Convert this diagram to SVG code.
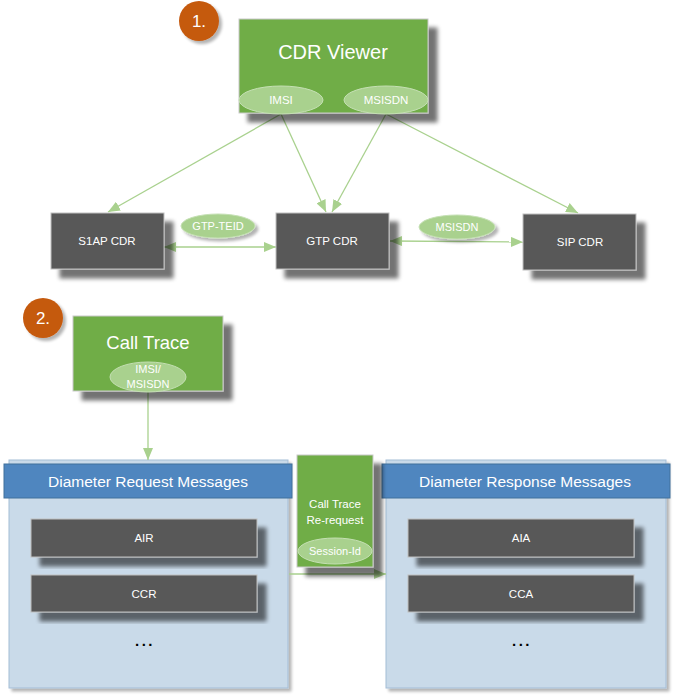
<svg xmlns="http://www.w3.org/2000/svg" width="675" height="697" viewBox="0 0 675 697">
<style>
text{font-family:"Liberation Sans",Arial,sans-serif;fill:#fff;text-anchor:middle;dominant-baseline:central}
.green{fill:#70AD47;stroke:#C9C9C9;stroke-width:1}
.ell{fill:#A9D18E;stroke:#C5E0B4;stroke-width:1}
.dark{fill:#595959;stroke:#BFBFBF;stroke-width:1}
.cont{fill:#C9DAE9;stroke:#A3BDD6;stroke-width:1}
.hdr{fill:#4F86BF;stroke:#41719C;stroke-width:1}
.num{fill:#C55A11}
.con{stroke:#A9D18E;stroke-width:1.3;fill:none}
.dots{fill:#000;font-size:15px;font-weight:bold;letter-spacing:2.5px}
</style>
<defs>
<filter id="sh" x="-20%" y="-20%" width="150%" height="150%">
<feGaussianBlur in="SourceAlpha" stdDeviation="2"/>
<feOffset dx="9" dy="9" result="o"/>
<feComponentTransfer><feFuncA type="linear" slope="0.55"/></feComponentTransfer>
<feMerge><feMergeNode/><feMergeNode in="SourceGraphic"/></feMerge>
</filter>
<filter id="sh2" x="-20%" y="-20%" width="150%" height="150%">
<feGaussianBlur in="SourceAlpha" stdDeviation="1.5"/>
<feOffset dx="3" dy="3" result="o"/>
<feComponentTransfer><feFuncA type="linear" slope="0.3"/></feComponentTransfer>
<feMerge><feMergeNode/><feMergeNode in="SourceGraphic"/></feMerge>
</filter>
<marker id="ah" viewBox="0 0 12 10" refX="12" refY="5" markerWidth="12" markerHeight="10" markerUnits="userSpaceOnUse" orient="auto-start-reverse">
<path d="M0,0 L12,5 L0,10 z" fill="#A9D18E"/>
</marker>
</defs>

<g id="step1"><circle class="num" cx="199" cy="21" r="20" filter="url(#sh2)"/><text x="199" y="21" font-size="17">1.</text></g>
<g id="step2"><circle class="num" cx="43" cy="318" r="20" filter="url(#sh2)"/><text x="43" y="318" font-size="17">2.</text></g>

<g id="diam-req">
<rect class="cont" x="9" y="460" width="279" height="228" filter="url(#sh2)"/>
<rect class="hdr" x="4" y="464" width="288" height="34"/>
<text x="148" y="481" font-size="15.5">Diameter Request Messages</text>
</g>
<g id="air"><rect class="dark" x="31" y="519" width="226" height="38" filter="url(#sh)"/><text x="144" y="538" font-size="11.5">AIR</text></g>
<g id="ccr"><rect class="dark" x="31" y="575" width="226" height="37" filter="url(#sh)"/><text x="144" y="594" font-size="11.5">CCR</text></g>
<text class="dots" x="145" y="640">...</text>

<g id="diam-resp">
<rect class="cont" x="386" y="460" width="280" height="228" filter="url(#sh2)"/>
<rect class="hdr" x="382" y="464" width="288" height="34"/>
<text x="525" y="481" font-size="15.5">Diameter Response Messages</text>
</g>
<g id="aia"><rect class="dark" x="408" y="519" width="226" height="38" filter="url(#sh)"/><text x="521" y="538" font-size="11.5">AIA</text></g>
<g id="cca"><rect class="dark" x="408" y="575" width="226" height="37" filter="url(#sh)"/><text x="521" y="594" font-size="11.5">CCA</text></g>
<text class="dots" x="522" y="640">...</text>

<g id="connectors">
<line class="con" x1="281" y1="114" x2="108" y2="212" marker-end="url(#ah)"/>
<line class="con" x1="281" y1="114" x2="326" y2="212" marker-end="url(#ah)"/>
<line class="con" x1="386" y1="114" x2="332" y2="212" marker-end="url(#ah)"/>
<line class="con" x1="386" y1="114" x2="578" y2="213" marker-end="url(#ah)"/>
<line class="con" x1="164" y1="247" x2="276" y2="247" marker-start="url(#ah)" marker-end="url(#ah)"/>
<line class="con" x1="390" y1="241" x2="523" y2="242" marker-start="url(#ah)" marker-end="url(#ah)"/>
<line class="con" x1="148" y1="392" x2="148" y2="460" marker-end="url(#ah)"/>
<line class="con" x1="289" y1="574" x2="386" y2="574" marker-end="url(#ah)"/>
</g>

<g id="cdr-viewer">
<rect class="green" x="239" y="19" width="189" height="94" filter="url(#sh)"/>
<text x="333" y="52" font-size="20">CDR Viewer</text>
<ellipse class="ell" cx="281" cy="100" rx="42" ry="14"/><text x="281" y="100" font-size="11.5">IMSI</text>
<ellipse class="ell" cx="386" cy="100" rx="42" ry="14"/><text x="386" y="100" font-size="11.5">MSISDN</text>
</g>

<g id="s1ap"><rect class="dark" x="51" y="213" width="113" height="56" filter="url(#sh)"/><text x="107" y="241" font-size="11.5">S1AP CDR</text></g>
<g id="gtp"><rect class="dark" x="276" y="213" width="113" height="56" filter="url(#sh)"/><text x="332" y="241" font-size="11.5">GTP CDR</text></g>
<g id="sip"><rect class="dark" x="523" y="214" width="113" height="56" filter="url(#sh)"/><text x="580" y="242" font-size="11.5">SIP CDR</text></g>
<g id="gtp-teid"><ellipse class="ell" cx="218" cy="226" rx="37" ry="12" filter="url(#sh2)"/><text x="218" y="226" font-size="11">GTP-TEID</text></g>
<g id="msisdn-lbl"><ellipse class="ell" cx="457" cy="227" rx="38" ry="12" filter="url(#sh2)"/><text x="457" y="227" font-size="11">MSISDN</text></g>

<g id="call-trace">
<rect class="green" x="73" y="316" width="150" height="75" filter="url(#sh)"/>
<text x="148" y="342" font-size="18.5">Call Trace</text>
<ellipse class="ell" cx="148" cy="377" rx="38" ry="15"/>
<text x="148" y="369" font-size="11">IMSI/</text>
<text x="148" y="384" font-size="11">MSISDN</text>
</g>

<g id="re-request">
<rect class="green" x="297" y="455" width="76" height="112" filter="url(#sh)"/>
<text x="335" y="504" font-size="11.5">Call Trace</text>
<text x="335" y="520" font-size="11.5">Re-request</text>
<ellipse class="ell" cx="335" cy="551" rx="37" ry="13"/>
<text x="335" y="551" font-size="11">Session-Id</text>
</g>
</svg>
